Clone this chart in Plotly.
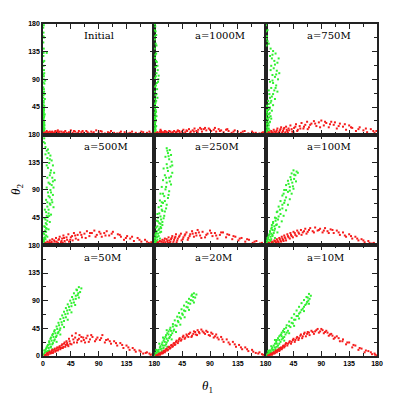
import plotly.graph_objects as go
from plotly.subplots import make_subplots

# panel labels (row by row)
labels = ["Initial", "a=1000M", "a=750M",
          "a=500M", "a=250M", "a=100M",
          "a=50M", "a=20M", "a=10M"]

# (theta1, theta2) points, green and red set per panel
g1 = [(0.5,2),(1,5),(2,3),(1.5,8),(0.8,12),(2.5,10),(1,16),(2,20),(0.5,24),(1.5,28),(2.8,33),(1,38),(0.6,44),(2,47),(1.2,52),(3,58),(0.8,64),(1.8,70),(0.5,77),(2.2,83),(1,90),(0.7,98),(1.6,105),(6,133),(0.9,112),(2,120),(0.6,128),(1.2,140),(0.5,150),(1.8,158),(0.8,166),(0.4,174),(1.3,178),(0.5,35),(2.4,15),(1.7,40),(0.3,60),(2.6,66),(3.5,88),(1.4,95),
      (0.3,1),(1.2,3),(0.7,6),(1.8,7),(0.4,9),(1.3,11),(0.9,14),(1.9,17),(0.5,19),(1.4,22),(0.8,26),(1.9,30),(0.4,32),(1.2,36),(0.8,41),(1.6,43),(0.5,48),(1.1,55),(0.4,68),(1.5,74),(0.8,85),(0.3,118),(1,133),(0.6,160),(2,100)]
r1 = [(2,1),(5,2),(8,4),(10,1),(12,3),(15,5),(18,2),(20,6),(22,3),(25,4),(28,1),(30,5),(33,3),(36,6),(40,2),(42,4),(45,7),(48,3),(52,5),(55,2),(58,6),(62,4),(66,3),(70,6),(74,2),(78,5),(82,4),(86,7),(90,3),(95,5),(100,2),(105,4),(110,6),(115,3),(120,2),(126,5),(132,4),(138,2),(144,5),(150,3),(156,2),(162,4),(168,3),(174,2),(178,4),(6,6),(14,2),(24,7),(35,1),(60,1),
      (1,3),(3,2),(4,4),(6,1),(7,3),(9,2),(11,5),(13,1),(14,4),(16,3),(17,1),(19,4),(21,2),(23,5),(26,2),(27,5),(31,2),(34,4),(38,3),(44,2),(50,6),(57,3),(64,6),(72,4),(80,2),(93,6),(108,3),(124,3),(141,3),(159,5),(172,5)]
g2 = [(0.5,2),(1.5,6),(2.5,3),(1,10),(3,14),(0.8,18),(2,22),(1.2,27),(3.5,30),(0.6,36),(2.2,40),(4,45),(1,50),(3,55),(5,60),(1.8,64),(0.7,70),(4.5,74),(2.5,80),(6,86),(1.2,92),(7,96),(3.5,100),(5.5,105),(2,110),(4,118),(1,125),(3,132),(0.6,140),(2.2,148),(1,155),(3,162),(0.5,170),(1.5,176),(0.8,180),(2,8),(0.4,25),(1.6,45),(6.5,90),(2.8,120),
      (0.3,1),(1,4),(0.6,7),(1.8,12),(0.5,15),(1.4,20),(2.5,24),(0.7,29),(1.6,33),(2.8,37),(0.9,42),(2,52),(0.5,58),(3.5,66),(1.3,78),(4,84),(2.5,95),(5,112),(1.6,130),(3.5,145),(0.7,160),(2,168)]
r2 = [(2,1),(4,3),(7,2),(9,5),(12,3),(15,1),(17,6),(20,4),(23,2),(26,5),(29,3),(32,6),(35,4),(38,7),(41,3),(44,5),(47,8),(50,4),(53,6),(56,9),(59,5),(62,7),(65,10),(68,6),(71,8),(74,11),(77,5),(80,9),(84,7),(88,10),(92,6),(96,8),(100,5),(104,9),(108,7),(112,4),(116,8),(120,6),(125,3),(130,7),(135,5),(140,3),(146,6),(152,2),(158,5),(164,3),(170,2),(176,4),(179,1),(10,8),
      (1,2),(3,1),(5,4),(6,2),(8,1),(10,3),(11,6),(13,2),(14,4),(16,3),(18,2),(19,5),(21,3),(24,6),(27,2),(30,4),(34,2),(37,5),(40,6),(46,3),(52,7),(58,3),(64,5),(70,4),(76,9),(82,11),(90,8),(98,11),(106,6),(118,9),(128,5),(143,5),(160,3),(174,3)]
g3 = [(0.5,178),(1,168),(2,160),(3,152),(1.5,145),(8,140),(12,136),(16,132),(7,128),(10,124),(14,120),(19,117),(9,112),(13,108),(18,104),(22,100),(11,97),(15,94),(20,90),(7,86),(12,84),(17,80),(9,76),(14,72),(19,70),(6,66),(10,62),(15,58),(4,55),(8,52),(12,48),(3,45),(6,42),(10,39),(2,36),(5,33),(8,30),(1,27),(4,24),(7,21),(2,18),(5,15),(1,12),(3,9),(6,7),(1,5),(3,3),(0.5,1),(2,40),(9,26),
      (0.5,3),(2,2),(4,5),(1.5,7),(5,10),(2.5,12),(0.8,16),(4,18),(6,20),(1.5,22),(3,26),(5.5,28),(0.8,30),(2.5,33),(6.5,35),(1,38),(4,40),(7,44),(2,47),(5,50),(9,55),(7,60),(12,66),(5,72),(16,76),(11,88),(17,98),(8,105),(15,114),(21,124),(11,130),(5,148),(1.5,156),(3,170)]
r3 = [(3,1),(5,4),(7,2),(9,6),(11,3),(13,8),(15,1),(17,5),(19,10),(21,3),(23,7),(25,12),(27,4),(29,9),(31,2),(33,13),(35,6),(37,10),(40,15),(43,5),(46,11),(49,17),(52,8),(55,14),(58,19),(61,10),(64,16),(67,21),(70,12),(74,18),(78,22),(82,14),(86,20),(90,23),(94,15),(98,19),(102,12),(106,21),(110,16),(115,10),(120,18),(125,13),(130,8),(135,15),(140,11),(146,6),(152,12),(158,7),(164,4),(170,9),(176,3),(179,6),
      (2,2),(4,1),(6,3),(8,1),(10,4),(12,2),(14,5),(16,3),(18,7),(20,2),(22,5),(24,9),(26,2),(28,6),(30,11),(32,4),(34,8),(36,3),(38,7),(42,9),(45,4),(48,13),(51,6),(56,10),(62,13),(68,9),(72,16),(80,18),(88,12),(96,21),(104,17),(112,20),(118,14),(128,17),(138,12),(150,9),(162,10),(174,6)]
g4 = [(2,174),(3,166),(4,160),(6,154),(9,150),(12,146),(7,142),(14,138),(10,134),(16,130),(8,126),(13,122),(18,118),(11,114),(15,110),(19,106),(9,102),(14,98),(17,94),(12,90),(8,86),(16,82),(11,78),(14,74),(7,70),(12,66),(17,62),(9,58),(5,54),(13,50),(8,46),(4,42),(11,38),(6,34),(3,30),(9,26),(5,22),(2,18),(7,14),(4,10),(1,7),(3,4),(1,1),(6,2),(2,12),(5,28),(10,48),(15,70),
      (0.5,3),(2,6),(4,2),(1.5,9),(3,13),(5,16),(1,20),(3.5,24),(6,27),(2,31),(4.5,36),(7,40),(2.5,44),(6,48),(9,52),(3,58),(7,63),(11,68),(5,74),(9,80),(13,86),(6,94),(11,100),(16,104),(7,110),(12,118),(6,130),(11,140),(4,148),(8,156),(1,168)]
r4 = [(3,1),(5,3),(7,6),(9,2),(11,8),(13,4),(15,10),(17,1),(19,6),(21,12),(23,3),(25,9),(27,14),(29,5),(31,11),(33,16),(35,7),(38,13),(41,18),(44,9),(47,15),(50,20),(53,11),(56,17),(60,21),(63,13),(67,19),(71,23),(75,15),(79,20),(83,24),(87,17),(91,22),(95,14),(99,20),(103,23),(107,16),(111,19),(116,12),(121,18),(126,14),(131,9),(136,15),(141,11),(147,7),(153,12),(159,6),(165,9),(171,4),(177,3),(180,1),
      (1,2),(2,1),(4,4),(6,1),(8,3),(10,5),(12,1),(14,6),(16,3),(18,8),(20,2),(22,6),(24,4),(26,10),(28,2),(30,7),(32,4),(34,12),(36,3),(39,9),(42,6),(45,13),(48,8),(52,16),(57,9),(62,17),(69,12),(76,20),(85,14),(93,19),(101,16),(113,22),(124,17),(134,12),(144,14),(156,9),(168,6),(175,5)]
g5 = [(20,158),(25,155),(22,150),(27,147),(18,144),(24,140),(28,136),(20,132),(26,128),(15,125),(22,121),(29,118),(17,114),(24,110),(14,106),(20,102),(27,99),(12,95),(18,91),(24,88),(10,84),(16,80),(22,77),(9,73),(14,69),(20,66),(7,62),(12,58),(17,55),(5,51),(10,47),(15,44),(4,40),(8,36),(13,33),(3,29),(7,25),(11,22),(2,18),(5,14),(9,11),(1,8),(4,5),(2,2),(6,3),(0.5,12),(3,20),(6,45),(10,30),(12,70),
      (0.5,2),(1,5),(3,7),(5,9),(1.5,11),(4,13),(7,15),(2,16),(6,19),(9,21),(4,23),(8,27),(11,28),(5,31),(10,35),(13,38),(6,39),(11,42),(16,48),(8,52),(13,56),(19,60),(11,64),(17,72),(23,82),(14,84),(19,95),(25,104),(19,110),(27,112),(21,126),(29,130),(23,145),(21,154)]
r5 = [(3,1),(5,4),(7,2),(9,7),(11,3),(13,9),(15,5),(17,11),(19,2),(21,7),(23,13),(25,4),(27,10),(29,15),(31,6),(33,12),(35,18),(37,8),(40,14),(43,19),(46,10),(49,16),(52,21),(55,12),(58,18),(61,23),(64,14),(67,20),(70,25),(74,16),(78,22),(82,13),(86,19),(90,24),(94,15),(98,20),(102,11),(106,17),(111,21),(116,13),(121,17),(126,10),(131,14),(136,8),(141,12),(147,6),(153,9),(159,4),(165,7),(171,3),(177,2),
      (2,2),(4,1),(6,5),(8,3),(10,1),(12,6),(14,3),(16,8),(18,5),(20,10),(22,4),(24,8),(26,6),(28,12),(30,3),(32,9),(34,14),(36,5),(38,11),(41,16),(44,8),(47,13),(50,18),(54,9),(57,15),(62,19),(68,16),(72,21),(76,12),(84,17),(92,20),(100,16),(108,21),(118,18),(128,15),(138,11),(150,10),(162,6),(174,4)]
g6 = [(45,122),(50,120),(42,117),(48,114),(52,118),(40,111),(46,108),(36,105),(43,102),(49,104),(33,98),(39,95),(45,92),(30,90),(36,87),(42,84),(27,81),(33,78),(39,75),(24,72),(30,69),(36,66),(21,63),(27,60),(33,57),(18,54),(24,51),(29,48),(15,45),(20,42),(26,39),(12,36),(17,33),(22,30),(9,27),(14,24),(19,21),(6,18),(11,15),(15,12),(4,10),(8,7),(12,5),(2,4),(5,2),(1,1),(3,12),(7,22),(10,33),(16,40),
      (1,3),(3,6),(5,5),(2,8),(6,9),(9,10),(4,13),(8,14),(11,17),(5,16),(9,19),(13,20),(7,23),(11,25),(15,27),(10,29),(14,31),(18,34),(12,38),(17,44),(21,47),(19,55),(23,58),(27,66),(31,73),(29,84),(33,90),(39,89),(37,100),(41,107),(46,115),(44,96)]
r6 = [(3,1),(6,3),(8,1),(10,5),(12,3),(14,8),(16,4),(18,10),(20,6),(22,12),(24,7),(26,14),(28,9),(30,16),(32,11),(35,18),(37,13),(40,20),(42,15),(45,22),(48,17),(51,24),(54,19),(57,25),(60,21),(64,27),(68,22),(72,28),(76,23),(80,29),(84,24),(88,27),(92,21),(96,28),(100,23),(105,26),(110,20),(115,24),(120,17),(125,21),(130,14),(135,18),(140,11),(145,14),(150,8),(155,10),(160,5),(166,7),(172,3),(177,2),(180,1),
      (2,2),(4,1),(5,4),(7,2),(9,3),(11,6),(13,2),(15,7),(17,5),(19,8),(21,4),(23,10),(25,6),(27,11),(29,7),(31,13),(33,8),(36,15),(39,11),(41,17),(44,13),(47,20),(50,15),(53,21),(58,17),(62,23),(66,19),(70,25),(78,21),(86,25),(94,24),(102,20),(108,25),(118,21),(128,16),(138,15),(148,11),(158,8),(168,4),(175,4)]
g7 = [(58,112),(62,110),(55,107),(60,104),(50,102),(56,99),(47,96),(53,93),(58,95),(44,90),(50,87),(40,84),(46,81),(52,83),(37,78),(43,75),(34,72),(40,69),(46,71),(31,66),(37,63),(28,60),(34,57),(40,59),(25,54),(31,51),(22,48),(28,45),(34,47),(19,42),(25,39),(16,36),(22,33),(28,35),(13,30),(19,27),(10,24),(16,21),(22,23),(8,18),(13,15),(5,12),(10,9),(15,11),(3,6),(7,4),(1,2),(4,1),(2,9),(6,14),
      (2,4),(5,7),(8,8),(4,10),(9,13),(12,14),(7,16),(11,19),(15,19),(10,22),(14,25),(18,25),(12,28),(17,31),(21,31),(15,34),(20,37),(24,37),(18,40),(23,44),(27,42),(26,50),(30,55),(33,62),(36,68),(39,74),(42,80),(46,86),(49,92),(53,98),(57,102),(54,108)]
r7 = [(4,1),(6,3),(8,2),(10,6),(12,4),(14,8),(16,5),(18,10),(20,7),(22,12),(24,9),(26,14),(28,11),(30,17),(32,13),(34,20),(36,15),(38,24),(40,18),(42,28),(44,20),(47,33),(50,22),(53,37),(56,26),(59,34),(62,24),(65,30),(68,22),(72,33),(76,27),(80,31),(84,24),(88,30),(92,26),(96,34),(100,22),(105,27),(110,20),(115,24),(120,17),(125,21),(130,13),(135,17),(140,10),(145,13),(150,7),(156,9),(162,4),(168,6),(174,2),(179,1),
      (3,1),(5,2),(7,5),(9,3),(11,7),(13,5),(15,10),(17,7),(19,12),(21,9),(23,14),(25,11),(27,16),(29,13),(31,19),(33,15),(35,22),(37,18),(39,21),(41,16),(43,24),(46,19),(49,27),(52,30),(55,22),(58,28),(62,31),(66,26),(70,29),(74,23),(78,34),(86,27),(94,29),(102,26),(108,24),(118,21),(128,18),(138,14),(148,10),(158,7),(166,5),(172,4),(177,3)]
g8 = [(64,102),(68,100),(60,98),(66,95),(56,93),(62,90),(52,88),(58,85),(64,87),(48,82),(54,79),(44,76),(50,73),(56,75),(40,70),(46,67),(37,64),(43,61),(49,63),(33,58),(39,55),(30,52),(36,49),(42,51),(26,46),(32,43),(23,40),(29,37),(35,39),(19,34),(25,31),(16,28),(22,25),(28,27),(13,22),(19,19),(10,16),(15,13),(21,15),(7,10),(12,8),(4,6),(9,4),(2,2),(5,1),(1,0.5),(3,10),(8,20),(14,30),(20,42),
      (2,5),(4,3),(6,7),(8,6),(5,9),(10,11),(12,12),(9,14),(14,17),(17,17),(12,19),(17,23),(20,22),(15,25),(20,28),(24,29),(18,31),(23,35),(27,34),(21,37),(27,41),(31,41),(25,43),(30,48),(34,50),(38,57),(41,63),(45,69),(48,74),(52,80),(55,86),(59,91),(63,96),(61,100)]
r8 = [(5,1),(7,3),(9,2),(11,5),(13,4),(15,8),(17,6),(19,11),(21,9),(23,14),(25,12),(27,17),(29,15),(31,20),(33,18),(35,23),(38,21),(40,27),(43,25),(46,31),(49,28),(52,35),(55,31),(58,38),(61,33),(64,40),(67,35),(70,42),(73,37),(76,43),(80,38),(84,41),(88,34),(92,38),(96,30),(100,35),(104,27),(108,31),(112,23),(117,27),(122,19),(127,23),(132,15),(137,18),(142,11),(147,14),(152,8),(158,10),(164,5),(170,6),(176,2),(180,1),
      (3,1),(6,2),(8,4),(10,3),(12,6),(14,5),(16,9),(18,8),(20,12),(22,10),(24,15),(26,13),(28,18),(30,16),(32,21),(34,19),(36,25),(39,24),(41,29),(44,27),(47,33),(50,30),(53,33),(56,36),(60,31),(63,36),(66,39),(69,34),(72,39),(78,40),(82,36),(86,39),(90,33),(94,36),(98,32),(102,30),(110,27),(120,22),(130,19),(140,14),(150,11),(160,7),(168,4),(174,3)]
g9 = [(70,101),(73,98),(66,96),(71,93),(62,91),(67,88),(58,86),(64,83),(70,85),(54,80),(60,77),(50,74),(56,71),(62,73),(46,68),(52,65),(42,62),(48,59),(54,61),(38,56),(44,53),(34,50),(40,47),(46,49),(30,44),(36,41),(26,38),(32,35),(38,37),(22,32),(28,29),(18,26),(24,23),(30,25),(15,20),(20,17),(11,14),(16,11),(22,13),(8,9),(13,7),(5,5),(10,3),(2,2),(6,1),(1,0.5),(4,8),(9,16),(15,26),(25,35),
      (3,4),(5,3),(7,6),(9,6),(6,9),(11,10),(13,10),(10,12),(15,14),(18,15),(13,17),(18,20),(22,20),(17,23),(22,26),(26,27),(20,29),(26,32),(30,31),(24,34),(30,39),(34,38),(28,41),(33,46),(38,49),(42,54),(46,59),(50,65),(54,69),(58,75),(62,80),(66,85),(69,90),(68,95)]
r9 = [(6,1),(8,3),(10,2),(12,5),(14,4),(16,8),(18,6),(20,10),(22,8),(24,13),(26,11),(28,16),(30,14),(32,19),(35,17),(38,22),(41,20),(44,26),(47,23),(50,29),(53,26),(56,33),(59,29),(62,36),(65,32),(68,39),(71,34),(74,41),(78,36),(82,42),(86,38),(90,44),(94,37),(98,41),(102,33),(106,36),(110,28),(115,32),(120,24),(125,27),(130,19),(135,22),(140,14),(145,17),(150,10),(155,12),(160,6),(166,8),(172,3),(177,2),(180,1),
      (4,1),(7,2),(9,4),(11,3),(13,6),(15,5),(17,9),(19,8),(21,11),(23,10),(25,14),(27,13),(29,17),(31,16),(33,21),(36,20),(39,24),(42,23),(45,28),(48,26),(51,31),(54,29),(57,35),(60,32),(63,38),(67,36),(70,38),(76,39),(80,40),(84,44),(88,40),(92,42),(96,39),(100,38),(104,35),(108,33),(112,30),(118,29),(124,24),(132,22),(142,18),(152,13),(162,9),(170,6),(176,4)]

greens = [g1, g2, g3, g4, g5, g6, g7, g8, g9]
reds = [r1, r2, r3, r4, r5, r6, r7, r8, r9]

fig = make_subplots(rows=3, cols=3, horizontal_spacing=0, vertical_spacing=0)

for i in range(9):
    row, col = i // 3 + 1, i % 3 + 1
    for pts, colr in ((greens[i], "#30f030"), (reds[i], "#f51c1c")):
        fig.add_trace(go.Scatter(
            x=[p[0] for p in pts], y=[p[1] for p in pts],
            mode="markers",
            marker=dict(symbol="square", size=2, color=colr, line=dict(width=0)),
            showlegend=False, hoverinfo="skip", cliponaxis=False), row=row, col=col)

    xt = [0, 45, 90, 135, 180] if col == 1 else [45, 90, 135, 180]
    yt = [0, 45, 90, 135, 180] if row == 3 else [45, 90, 135, 180]
    fig.update_xaxes(range=[0, 180], tickvals=xt, ticktext=[str(v) for v in xt],
                     showticklabels=(row == 3), row=row, col=col)
    fig.update_yaxes(range=[0, 180], tickvals=yt, ticktext=[str(v) for v in yt],
                     showticklabels=(col == 1), row=row, col=col)

axis_style = dict(showgrid=False, zeroline=False, showline=True, linecolor="#222",
                  linewidth=1.5, mirror="ticks", ticks="inside", ticklen=5,
                  tickcolor="#222", tickwidth=1,
                  minor=dict(ticks="inside", tick0=0, dtick=22.5, ticklen=3, tickcolor="#222"),
                  tickfont=dict(family="Liberation Sans", size=7, color="black", weight="bold"))
fig.update_xaxes(**axis_style)
fig.update_yaxes(**axis_style)

# the page body adds an 8px offset, so margins are shifted to compensate
PW = 334.0
for i, lab in enumerate(labels):
    col = i % 3
    row = i // 3
    fig.add_annotation(text=lab, xref="paper", yref="paper",
                       x=(col * PW / 3 + 39) / PW, y=1 - (row * PW / 3 + 12) / PW,
                       xanchor="left", yanchor="middle", showarrow=False,
                       font=dict(family="DejaVu Serif", size=10, color="black"))

fig.add_annotation(text="<i>θ</i><sub>2</sub>", xref="paper", yref="paper",
                   x=(16 - 43) / PW, y=(356 - 189) / PW, textangle=-90, showarrow=False,
                   xanchor="center", yanchor="middle",
                   font=dict(family="Liberation Serif", size=13, color="black"))
fig.add_annotation(text="<i>θ</i><sub>1</sub>", xref="paper", yref="paper",
                   x=(207 - 43) / PW, y=-(387 - 356) / PW, showarrow=False,
                   xanchor="center", yanchor="middle",
                   font=dict(family="Liberation Serif", size=13, color="black"))

fig.update_layout(width=399, height=399, paper_bgcolor="white", plot_bgcolor="white",
                  margin=dict(l=35, r=30, t=14, b=51))

fig.write_html("out.html")
